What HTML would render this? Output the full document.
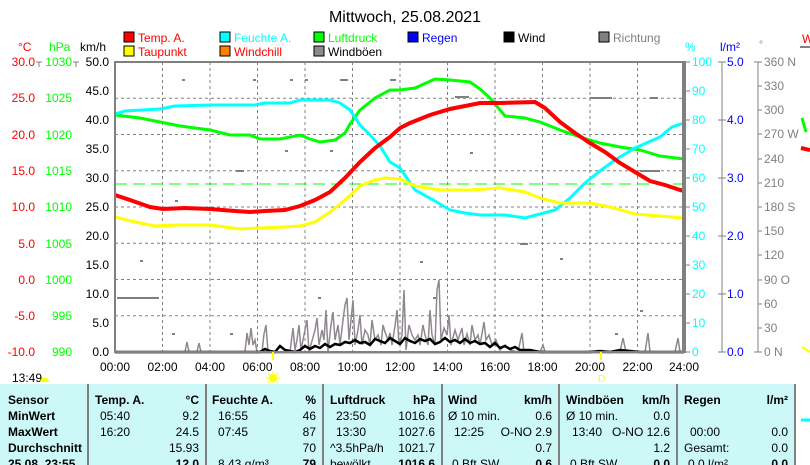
<!DOCTYPE html>
<html><head><meta charset="utf-8"><style>
body{margin:0;background:#fff;width:810px;height:465px;overflow:hidden;font-family:"Liberation Sans",sans-serif}
svg{display:block}
text{font-family:"Liberation Sans",sans-serif}
</style></head><body>
<svg width="810" height="465" xmlns="http://www.w3.org/2000/svg">
<text x="405" y="22" font-size="16" text-anchor="middle">Mittwoch, 25.08.2021</text>
<!-- legend -->
<g font-size="12">
<rect x="124" y="32" width="10" height="10" fill="#f00" stroke="#000"/><text x="138" y="42" fill="#f00">Temp. A.</text>
<rect x="220" y="32" width="10" height="10" fill="#0ff" stroke="#000"/><text x="234" y="42" fill="#0ff">Feuchte A.</text>
<rect x="314" y="32" width="10" height="10" fill="#0f0" stroke="#000"/><text x="328" y="42" fill="#0f0">Luftdruck</text>
<rect x="408" y="32" width="10" height="10" fill="#00f" stroke="#000"/><text x="422" y="42" fill="#00f">Regen</text>
<rect x="504" y="32" width="10" height="10" fill="#000" stroke="#000"/><text x="518" y="42">Wind</text>
<rect x="599" y="32" width="10" height="10" fill="#808080" stroke="#000"/><text x="613" y="42" fill="#808080">Richtung</text>
<rect x="124" y="46" width="10" height="10" fill="#ff0" stroke="#000"/><text x="138" y="56" fill="#f00">Taupunkt</text>
<rect x="220" y="46" width="10" height="10" fill="#ff8000" stroke="#000"/><text x="234" y="56" fill="#f00">Windchill</text>
<rect x="314" y="46" width="10" height="10" fill="#908890" stroke="#000"/><text x="328" y="56">Windböen</text>
</g>
<!-- axis units -->
<g font-size="12">
<text x="18" y="51" fill="#f00">°C</text><text x="49" y="51" fill="#0f0">hPa</text><text x="80" y="51">km/h</text>
<text x="685" y="51" fill="#0ff">%</text><text x="720" y="51" fill="#00f">l/m²</text><text x="759" y="48" fill="#808080" font-size="10">°</text>
<text x="802" y="43" fill="#f00">W</text>
</g>
<!-- grid -->
<g stroke="#808080" stroke-dasharray="3,3" stroke-width="1">
<line x1="162.5" y1="62" x2="162.5" y2="352"/><line x1="210" y1="62" x2="210" y2="352"/><line x1="257.5" y1="62" x2="257.5" y2="352"/><line x1="305" y1="62" x2="305" y2="352"/><line x1="352.5" y1="62" x2="352.5" y2="352"/><line x1="400" y1="62" x2="400" y2="352"/><line x1="447.5" y1="62" x2="447.5" y2="352"/><line x1="495" y1="62" x2="495" y2="352"/><line x1="542.5" y1="62" x2="542.5" y2="352"/><line x1="590" y1="62" x2="590" y2="352"/><line x1="637.5" y1="62" x2="637.5" y2="352"/>
<line x1="115" y1="98.25" x2="684" y2="98.25"/><line x1="115" y1="134.5" x2="684" y2="134.5"/><line x1="115" y1="170.75" x2="684" y2="170.75"/><line x1="115" y1="207" x2="684" y2="207"/><line x1="115" y1="243.25" x2="684" y2="243.25"/><line x1="115" y1="279.5" x2="684" y2="279.5"/><line x1="115" y1="315.75" x2="684" y2="315.75"/>
</g>
<line x1="115" y1="184" x2="684" y2="184" stroke="#0f0" stroke-dasharray="12,6" stroke-width="1"/>
<!-- direction dots -->
<g fill="#808080">
<rect x="117" y="297" width="42" height="2"/><rect x="182" y="79" width="3" height="2"/><rect x="253" y="79" width="3" height="2"/><rect x="290" y="79" width="3" height="2"/><rect x="305" y="79" width="3" height="2"/><rect x="340" y="79" width="8" height="2"/><rect x="390" y="79" width="6" height="2"/><rect x="455" y="96" width="14" height="2"/><rect x="590" y="97" width="22" height="2"/><rect x="650" y="97" width="8" height="2"/><rect x="236" y="170" width="8" height="2"/><rect x="520" y="243" width="8" height="2"/><rect x="640" y="170" width="20" height="2"/><rect x="175" y="200" width="3" height="2"/><rect x="285" y="150" width="3" height="2"/><rect x="330" y="150" width="3" height="2"/><rect x="470" y="152" width="3" height="2"/><rect x="560" y="258" width="3" height="2"/><rect x="420" y="261" width="3" height="2"/><rect x="140" y="260" width="3" height="2"/><rect x="172" y="333" width="3" height="2"/><rect x="230" y="333" width="3" height="2"/><rect x="318" y="297" width="3" height="2"/><rect x="433" y="297" width="3" height="2"/><rect x="615" y="333" width="3" height="2"/><rect x="640" y="310" width="3" height="2"/>
</g>
<!-- gusts -->
<polyline fill="none" stroke="#908890" stroke-width="1.5" points="185,352 187,342 189,352 197,352 199,343 201,352 245,352 247,333 249,345 251,328 253,345 255,340 257,352 262,352 264,334 266,325 268,352 290,352 293,328 295,350 297,340 299,325 301,350 304,335 307,320 309,352 315,330 317,318 319,345 322,330 324,340 326,310 328,352 331,325 333,312 335,340 338,325 340,345 343,320 345,305 347,298 349,340 351,320 353,300 355,345 358,330 360,315 362,345 365,330 368,335 370,345 372,320 375,340 378,335 381,345 383,325 385,332 388,340 390,333 392,345 395,326 397,310 399,345 402,335 404,290 406,350 409,325 412,335 415,340 418,335 420,345 423,325 425,335 428,345 430,310 432,335 435,345 437,290 439,280 441,340 444,328 447,335 449,315 451,345 455,330 458,340 462,328 464,345 467,334 470,345 472,325 475,340 478,335 480,345 484,322 486,340 489,335 492,345 496,340 500,350 505,345 510,350 518,352 522,333 524,352 540,352 543,345 545,352 560,352 620,352 623,338 626,352 645,352 648,333 650,352 675,352 678,338 680,352 684,352"/>
<!-- wind -->
<polyline fill="none" stroke="#000" stroke-width="2.5" points="115,352 260,352 265,349 270,351 275,352 280,346 285,350 295,352 300,350 305,346 310,349 315,346 320,348 325,344 330,347 335,344 340,345 345,342 350,343 355,340 360,343 365,342 370,345 375,339 380,341 385,343 390,338 395,341 400,344 405,338 410,341 415,343 420,339 425,341 430,339 435,344 440,342 445,338 450,342 455,340 460,343 465,339 470,343 475,341 480,344 485,343 490,347 495,343 500,348 505,346 510,349 515,347 520,350 530,350 540,352 590,352 600,351 610,352 620,350 630,351 640,352 684,352"/>
<line x1="115" y1="352.5" x2="684" y2="352.5" stroke="#00f" stroke-width="1.5"/>
<!-- series -->
<polyline fill="none" stroke="#0f0" stroke-width="3" points="115,115 140,118 160,122 180,126 210,130 230,135 250,135 260,139 280,139 300,135 310,139 320,142 335,140 345,133 350,124 360,110 375,98 390,90 400,90 415,88 435,79 450,80 470,82 480,89 490,98 505,116 525,118 540,122 560,130 580,137 600,143 620,147 640,150 660,156 684,159"/>
<polyline fill="none" stroke="#0ff" stroke-width="3" points="115,114 125,111 160,109 175,106 210,105 255,105 265,103 290,103 300,100 330,100 340,103 350,110 360,125 370,135 380,146 390,162 400,168 415,190 435,201 450,210 465,213 480,215 505,215 525,218 540,214 555,210 570,198 585,183 600,171 615,160 635,148 660,137 672,127 684,123"/>
<polyline fill="none" stroke="#ff0" stroke-width="3" points="115,217 135,222 155,226 175,225 210,225 240,229 260,228 285,227 300,226 315,222 330,212 345,200 360,186 375,180 385,178 400,179 415,186 440,190 470,190 500,188 525,192 540,198 560,203 590,203 610,207 635,214 660,216 684,218"/>
<polyline fill="none" stroke="#f00" stroke-width="4" points="115,195 130,200 150,207 163,209 185,208 210,209 235,211 250,212 265,211 285,210 300,206 315,200 330,192 345,178 360,162 375,148 390,137 400,128 410,123 430,115 450,109 480,103 500,103 535,102 545,108 560,122 575,133 590,143 605,152 620,163 635,172 650,181 665,185 680,190 684,191"/>
<!-- frame -->
<rect x="115" y="62" width="569" height="290" fill="none" stroke="#808080" stroke-width="2"/>
<line x1="684" y1="61" x2="684" y2="353" stroke="#808080" stroke-width="4"/>
<line x1="722" y1="62" x2="722" y2="352" stroke="#808080"/>
<line x1="758" y1="62" x2="758" y2="352" stroke="#808080"/>
<line x1="273" y1="352" x2="273" y2="360" stroke="#ff0" stroke-width="2"/>
<line x1="601" y1="352" x2="601" y2="360" stroke="#ff0" stroke-width="2"/>
<!-- left labels -->
<g font-size="12" text-anchor="end">
<g fill="#f00"><text x="35" y="66">30.0</text><text x="35" y="102">25.0</text><text x="35" y="139">20.0</text><text x="35" y="175">15.0</text><text x="35" y="211">10.0</text><text x="35" y="248">5.0</text><text x="35" y="284">0.0</text><text x="35" y="320">-5.0</text><text x="35" y="356">-10.0</text></g>
<g fill="#0f0"><text x="72" y="66">1030</text><text x="72" y="102">1025</text><text x="72" y="139">1020</text><text x="72" y="175">1015</text><text x="72" y="211">1010</text><text x="72" y="248">1005</text><text x="72" y="284">1000</text><text x="72" y="320">995</text><text x="72" y="356">990</text></g>
<g fill="#000"><text x="109" y="66">50.0</text><text x="109" y="95">45.0</text><text x="109" y="124">40.0</text><text x="109" y="153">35.0</text><text x="109" y="182">30.0</text><text x="109" y="211">25.0</text><text x="109" y="240">20.0</text><text x="109" y="269">15.0</text><text x="109" y="298">10.0</text><text x="109" y="327">5.0</text><text x="109" y="356">0.0</text></g>
</g>
<g stroke="#808080"><line x1="36" y1="62" x2="42" y2="62"/><line x1="39" y1="62" x2="39" y2="67"/><line x1="73" y1="62" x2="79" y2="62"/><line x1="76" y1="62" x2="76" y2="67"/></g>
<!-- right labels -->
<g font-size="12">
<g fill="#0ff"><text x="692" y="66">100</text><text x="692" y="95">90</text><text x="692" y="124">80</text><text x="692" y="153">70</text><text x="692" y="182">60</text><text x="692" y="211">50</text><text x="692" y="240">40</text><text x="692" y="269">30</text><text x="692" y="298">20</text><text x="692" y="327">10</text><text x="692" y="356">0</text></g>
<g fill="#00f"><text x="727" y="66">5.0</text><text x="727" y="124">4.0</text><text x="727" y="182">3.0</text><text x="727" y="240">2.0</text><text x="727" y="298">1.0</text><text x="727" y="356">0.0</text></g>
<g fill="#808080"><text x="764" y="66">360 N</text><text x="764" y="90">330</text><text x="764" y="114">300</text><text x="764" y="138">270 W</text><text x="764" y="163">240</text><text x="764" y="187">210</text><text x="764" y="211">180 S</text><text x="764" y="235">150</text><text x="764" y="259">120</text><text x="764" y="284">90  O</text><text x="764" y="308">60</text><text x="764" y="332">30</text><text x="764" y="356">0    N</text></g>
</g>
<g stroke="#808080"><line x1="684" y1="62" x2="690" y2="62"/><line x1="684" y1="91" x2="690" y2="91"/><line x1="684" y1="120" x2="690" y2="120"/><line x1="684" y1="149" x2="690" y2="149"/><line x1="684" y1="178" x2="690" y2="178"/><line x1="684" y1="207" x2="690" y2="207"/><line x1="684" y1="236" x2="690" y2="236"/><line x1="684" y1="265" x2="690" y2="265"/><line x1="684" y1="294" x2="690" y2="294"/><line x1="684" y1="323" x2="690" y2="323"/><line x1="684" y1="352" x2="690" y2="352"/>
<line x1="718" y1="62" x2="726" y2="62"/><line x1="718" y1="120" x2="726" y2="120"/><line x1="718" y1="178" x2="726" y2="178"/><line x1="718" y1="236" x2="726" y2="236"/><line x1="718" y1="294" x2="726" y2="294"/><line x1="718" y1="352" x2="726" y2="352"/>
<line x1="754" y1="62" x2="762" y2="62"/><line x1="758" y1="86" x2="762" y2="86"/><line x1="758" y1="110" x2="762" y2="110"/><line x1="758" y1="134" x2="762" y2="134"/><line x1="758" y1="159" x2="762" y2="159"/><line x1="758" y1="183" x2="762" y2="183"/><line x1="758" y1="207" x2="762" y2="207"/><line x1="758" y1="231" x2="762" y2="231"/><line x1="758" y1="255" x2="762" y2="255"/><line x1="758" y1="280" x2="762" y2="280"/><line x1="758" y1="304" x2="762" y2="304"/><line x1="758" y1="328" x2="762" y2="328"/><line x1="754" y1="352" x2="762" y2="352"/>
<line x1="800" y1="47" x2="810" y2="47" stroke-width="2"/></g>
<polyline points="802,118 806,132" stroke="#0f0" stroke-width="3" fill="none"/>
<polyline points="801,148 810,150" stroke="#f00" stroke-width="4" fill="none"/>
<polyline points="802,347 810,352" stroke="#ff0" stroke-width="2" fill="none"/>
<!-- hours -->
<g font-size="12" text-anchor="middle">
<text x="115" y="371">00:00</text><text x="162.5" y="371">02:00</text><text x="210" y="371">04:00</text><text x="257.5" y="371">06:00</text><text x="305" y="371">08:00</text><text x="352.5" y="371">10:00</text><text x="400" y="371">12:00</text><text x="447.5" y="371">14:00</text><text x="495" y="371">16:00</text><text x="542.5" y="371">18:00</text><text x="590" y="371">20:00</text><text x="637.5" y="371">22:00</text><text x="684" y="371">24:00</text>
</g>
<text x="12" y="382" font-size="12">13:49</text>
<path d="M40,382 a4,4 0 0 1 9,0 z" fill="#ff0"/>
<circle cx="273" cy="378" r="4" fill="#ff0"/><g stroke="#ff0"><line x1="273" y1="371" x2="273" y2="385"/><line x1="266" y1="378" x2="280" y2="378"/><line x1="268" y1="373" x2="278" y2="383"/><line x1="278" y1="373" x2="268" y2="383"/></g>
<text x="598" y="382" font-size="10" fill="#ff0">D</text>
<!-- table -->
<rect x="0" y="384" width="795" height="81" fill="#ccf8f8"/>
<g stroke="#808080" stroke-width="2"><line x1="88" y1="384" x2="88" y2="465"/><line x1="206" y1="384" x2="206" y2="465"/><line x1="323" y1="384" x2="323" y2="465"/><line x1="442" y1="384" x2="442" y2="465"/><line x1="559" y1="384" x2="559" y2="465"/><line x1="677" y1="384" x2="677" y2="465"/><line x1="795" y1="384" x2="795" y2="465"/></g>
<line x1="801" y1="420" x2="810" y2="420" stroke="#0ff" stroke-width="3"/>
<g font-size="12">
<g font-weight="bold"><text x="8" y="404">Sensor</text><text x="8" y="420">MinWert</text><text x="8" y="436">MaxWert</text><text x="8" y="452">Durchschnitt</text><text x="8" y="468">25.08. 23:55</text>
<text x="95" y="404">Temp. A.</text><text x="212" y="404">Feuchte A.</text><text x="330" y="404">Luftdruck</text><text x="448" y="404">Wind</text><text x="566" y="404">Windböen</text><text x="684" y="404">Regen</text></g>
<g text-anchor="end" font-weight="bold"><text x="199" y="404">°C</text><text x="316" y="404">%</text><text x="435" y="404">hPa</text><text x="552" y="404">km/h</text><text x="670" y="404">km/h</text><text x="788" y="404">l/m²</text>
<text x="199" y="468">12.0</text><text x="316" y="468">79</text><text x="435" y="468">1016.6</text><text x="552" y="468">0.6</text><text x="670" y="468">0.0</text><text x="788" y="468">0.0</text></g>
<text x="100" y="420">05:40</text><text x="100" y="436">16:20</text><text x="218" y="420">16:55</text><text x="218" y="436">07:45</text><text x="336" y="420">23:50</text><text x="336" y="436">13:30</text><text x="330" y="452">^3.5hPa/h</text><text x="330" y="468">bewölkt</text>
<text x="448" y="420">Ø 10 min.</text><text x="454" y="436">12:25</text><text x="566" y="420">Ø 10 min.</text><text x="572" y="436">13:40</text><text x="690" y="436">00:00</text><text x="684" y="452">Gesamt:</text><text x="218" y="468">8.43 g/m³</text><text x="452" y="468">0 Bft SW</text><text x="570" y="468">0 Bft SW</text><text x="688" y="468">0.0 l/m²</text>
<g text-anchor="end"><text x="199" y="420">9.2</text><text x="199" y="436">24.5</text><text x="199" y="452">15.93</text><text x="316" y="420">46</text><text x="316" y="436">87</text><text x="316" y="452">70</text><text x="435" y="420">1016.6</text><text x="435" y="436">1027.6</text><text x="435" y="452">1021.7</text><text x="552" y="420">0.6</text><text x="552" y="436">O-NO 2.9</text><text x="552" y="452">0.7</text><text x="670" y="420">0.0</text><text x="670" y="436">O-NO 12.6</text><text x="670" y="452">1.2</text><text x="788" y="436">0.0</text><text x="788" y="452">0.0</text></g>
</g>
</svg>
</body></html>
